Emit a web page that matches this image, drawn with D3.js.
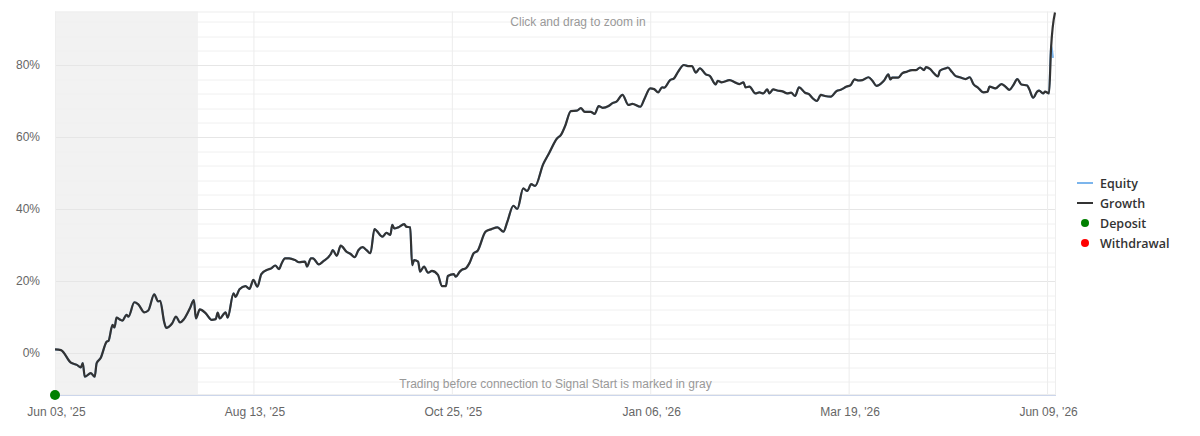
<!DOCTYPE html>
<html>
<head>
<meta charset="utf-8">
<script src="https://cdn.jsdelivr.net/npm/d3@7"></script>
<style>
  body { margin: 0; background: #fff; }
  text { font-family: "Liberation Sans", Arial, sans-serif; }
  .tickLabel { font-size: 12px; fill: #666; }
  .note { font-size: 12px; fill: #999; }
  .legendText { font-family: "Open Sans", sans-serif; font-size: 12.5px; font-weight: 600; fill: #333; }
</style>
</head>
<body>
<div id="chart"></div>
<script>
// x axis labels sit at these bar numbers
var tickLabels = ["Jun 03, '25", "Aug 13, '25", "Oct 25, '25", "Jan 06, '26", "Mar 19, '26", "Jun 09, '26"];
var tickBars = [0, 100, 200, 300, 400, 500];
var yTicks = [0, 20, 40, 60, 80];

// bar number of each point and the growth in %
var bars = [0, 3, 8, 11, 13, 14, 15, 18, 20, 21, 23, 26, 27, 29, 30, 31, 33, 34, 36, 37,
  40, 42, 45, 47, 50, 52, 53, 55, 56, 59, 61, 63, 65, 68, 70, 71, 73, 76, 79, 81,
  82, 83, 86, 87, 90, 91, 93, 96, 98, 100, 102, 104, 107, 109, 111, 113, 114, 116, 118, 121,
  123, 126, 127, 129, 130, 133, 135, 139, 140, 142, 144, 147, 149, 151, 153, 155, 157, 159, 161, 162,
  165, 166, 167, 169, 170, 171, 173, 176, 177, 179, 180, 181, 183, 184, 186, 188, 190, 193, 195, 197,
  198, 201, 202, 204, 205, 207, 209, 211, 213, 217, 220, 223, 226, 228, 231, 233, 236, 238, 240, 242,
  246, 249, 253, 255, 257, 260, 263, 265, 267, 270, 272, 274, 276, 279, 281, 283, 286, 289, 291, 295,
  297, 300, 302, 304, 306, 307, 310, 312, 314, 317, 319, 321, 323, 325, 328, 330, 333, 334, 336, 340,
  343, 345, 347, 348, 350, 353, 355, 357, 359, 360, 362, 364, 367, 369, 371, 373, 375, 378, 380, 382,
  384, 386, 388, 391, 394, 396, 399, 401, 403, 405, 407, 410, 412, 414, 417, 418, 420, 421, 422, 425,
  427, 429, 432, 434, 436, 438, 439, 441, 443, 445, 446, 449, 450, 452, 454, 456, 459, 461, 463, 465,
  468, 470, 471, 474, 477, 479, 481, 483, 485, 487, 490, 491, 493, 495, 496, 498, 499, 501, 502, 504];

var growth = [1.0, 0.8, -2.7, -3.3, -4.0, -2.8, -6.6, -5.6, -6.6, -2.8, -1.4, 3.1, 3.4, 7.8, 7.1, 9.8, 9.2, 9.0, 10.6, 10.1,
  14.1, 13.5, 11.3, 11.8, 16.3, 14.3, 14.5, 8.7, 7.0, 8.2, 10.1, 8.5, 9.4, 12.4, 14.7, 9.6, 12.1, 11.0, 9.2, 9.4,
  11.2, 9.6, 11.3, 9.8, 16.6, 15.6, 17.7, 18.6, 17.8, 20.3, 18.4, 21.9, 23.1, 23.5, 24.3, 23.3, 24.6, 26.3, 26.3, 25.8,
  25.2, 25.4, 24.0, 26.3, 26.3, 24.6, 25.4, 27.5, 28.6, 27.0, 29.8, 28.1, 27.5, 26.6, 28.6, 29.4, 28.6, 27.7, 34.4, 34.0,
  32.3, 32.8, 33.4, 32.8, 35.6, 34.6, 34.9, 35.8, 35.1, 34.9, 24.4, 25.8, 25.4, 22.6, 24.0, 22.3, 22.8, 21.7, 18.6, 18.6,
  21.4, 21.9, 21.2, 22.6, 23.1, 23.5, 25.1, 27.7, 28.4, 33.7, 34.4, 34.9, 33.7, 36.5, 40.9, 40.0, 45.7, 45.0, 46.9, 46.4,
  52.4, 55.5, 59.6, 60.6, 62.9, 67.2, 67.3, 68.0, 67.0, 67.0, 66.4, 68.6, 68.1, 68.6, 69.4, 69.8, 71.7, 68.9, 69.2, 68.4,
  70.5, 73.5, 73.3, 72.4, 73.8, 73.7, 75.8, 76.3, 78.1, 80.0, 79.7, 79.7, 77.9, 79.1, 77.4, 77.0, 74.6, 75.6, 75.2, 75.8,
  75.1, 74.7, 75.2, 73.8, 74.0, 72.1, 72.4, 72.1, 73.2, 72.1, 73.2, 72.9, 72.6, 72.1, 72.3, 71.4, 73.8, 72.3, 71.9, 70.7,
  70.0, 71.7, 71.4, 71.2, 72.8, 73.1, 74.0, 74.4, 76.0, 75.7, 75.8, 76.6, 75.6, 74.2, 75.2, 75.8, 77.4, 76.0, 76.5, 76.5,
  77.7, 78.1, 78.6, 78.6, 79.3, 78.6, 79.4, 78.9, 77.7, 76.8, 78.4, 79.1, 79.3, 78.1, 76.9, 76.6, 76.1, 76.6, 74.6, 73.8,
  72.4, 72.6, 74.0, 73.5, 74.7, 74.0, 73.1, 74.4, 76.1, 74.6, 74.3, 73.3, 70.9, 72.6, 72.9, 72.1, 72.6, 72.1, 84.6, 94.6];

// equity follows growth until the last bars
var equityTailBars = [502, 503];
var equityTail = [85.5, 82.0];

var grayUntilBar = 72;      // trading before connection
var depositBars = [0];

var legendNames = ["Equity", "Growth", "Deposit", "Withdrawal"];
var legendColors = ["#7cb5ec", "#333333", "#008000", "#ff0000"];

var svgWidth = 1200;
var svgHeight = 436;

var margin = {
  top: 11.5,
  right: 144,
  bottom: 41,
  left: 55,
};

var width = svgWidth - margin.left - margin.right;
var height = svgHeight - margin.top - margin.bottom;

var svg = d3.select("#chart")
  .append("svg")
  .attr("width", svgWidth)
  .attr("height", svgHeight);

var chartGroup = svg.append("g")
  .attr("transform", `translate(${margin.left}, ${margin.top})`);

var xScale = d3.scaleLinear()
  .domain([0, 504])
  .range([0, width - 1]);

var yScale = d3.scaleLinear()
  .domain([-11.67, 94.86])
  .range([height, 0]);

// gray band
chartGroup.append("rect")
  .attr("x", xScale(0))
  .attr("y", 0)
  .attr("width", xScale(grayUntilBar) - xScale(0))
  .attr("height", height)
  .attr("fill", "#f2f2f2");

// minor grid every 4%
var minorTicks = d3.range(-8, 95, 4).filter(d => d % 20 !== 0);
chartGroup.append("g")
  .selectAll("line")
  .data(minorTicks)
  .enter()
  .append("line")
  .attr("x1", 0)
  .attr("x2", width)
  .attr("y1", d => Math.round(yScale(d)) + 0.5)
  .attr("y2", d => Math.round(yScale(d)) + 0.5)
  .attr("stroke", "#f0f0f0");

// major grid
chartGroup.append("g")
  .call(d3.axisLeft(yScale).tickValues(yTicks).tickSize(-width).tickFormat(""))
  .call(g => g.select(".domain").remove())
  .selectAll("line")
  .attr("stroke", "#e6e6e6");

chartGroup.append("g")
  .attr("transform", `translate(0, ${height})`)
  .call(d3.axisBottom(xScale).tickValues(tickBars).tickSize(-height).tickFormat(""))
  .call(g => g.select(".domain").remove())
  .selectAll("line")
  .attr("stroke", "#ececec");

// plot border
chartGroup.append("rect")
  .attr("x", 0.5)
  .attr("y", 0.5)
  .attr("width", width - 1)
  .attr("height", height - 1)
  .attr("fill", "none")
  .attr("stroke", "#eeeeee");

// x axis line
chartGroup.append("line")
  .attr("x1", 0)
  .attr("x2", width)
  .attr("y1", height + 0.5)
  .attr("y2", height + 0.5)
  .attr("stroke", "#ccd6eb");

// axis labels
chartGroup.append("g")
  .selectAll("text")
  .data(yTicks)
  .enter()
  .append("text")
  .attr("class", "tickLabel")
  .attr("x", -15)
  .attr("y", d => yScale(d) + 4)
  .attr("text-anchor", "end")
  .text(d => d + "%");

chartGroup.append("g")
  .selectAll("text")
  .data(tickBars)
  .enter()
  .append("text")
  .attr("class", "tickLabel")
  .attr("x", d => xScale(d) + 1.5)
  .attr("y", height + 21)
  .attr("text-anchor", "middle")
  .text((d, i) => tickLabels[i]);

// notes
chartGroup.append("text")
  .attr("class", "note")
  .attr("x", 523)
  .attr("y", 14.5)
  .attr("text-anchor", "middle")
  .text("Click and drag to zoom in");

chartGroup.append("text")
  .attr("class", "note")
  .attr("x", width / 2)
  .attr("y", height - 7)
  .attr("text-anchor", "middle")
  .text("Trading before connection to Signal Start is marked in gray");

// series
var growthData = bars.map((b, i) => ({ bar: b, value: growth[i] }));
var equityData = growthData.filter(d => d.bar < equityTailBars[0])
  .concat(equityTailBars.map((b, i) => ({ bar: b, value: equityTail[i] })));

svg.append("defs").append("clipPath")
  .attr("id", "plotClip")
  .append("rect")
  .attr("width", width)
  .attr("height", height);

var line = d3.line()
  .x(d => xScale(d.bar))
  .y(d => yScale(d.value))
  .curve(d3.curveMonotoneX);

var seriesGroup = chartGroup.append("g").attr("clip-path", "url(#plotClip)");

seriesGroup.append("path")
  .datum(equityData)
  .attr("d", line)
  .attr("fill", "none")
  .attr("stroke", legendColors[0])
  .attr("stroke-width", 2)
  .attr("stroke-linejoin", "round");

seriesGroup.append("path")
  .datum(growthData)
  .attr("d", line)
  .attr("fill", "none")
  .attr("stroke", legendColors[1])
  .attr("stroke-width", 2.2)
  .attr("stroke-linejoin", "round");

// deposits on the axis
chartGroup.append("g")
  .selectAll("circle")
  .data(depositBars)
  .enter()
  .append("circle")
  .attr("cx", d => xScale(d))
  .attr("cy", height)
  .attr("r", 5)
  .attr("fill", legendColors[2]);

// legend
var legend = svg.append("g")
  .attr("transform", "translate(1077, 183)");

var items = legend.selectAll("g")
  .data(legendNames)
  .enter()
  .append("g")
  .attr("transform", (d, i) => `translate(0, ${i * 20})`);

items.filter((d, i) => i < 2)
  .append("line")
  .attr("x1", 0)
  .attr("x2", 16)
  .attr("y1", 0)
  .attr("y2", 0)
  .attr("stroke", (d, i) => legendColors[i])
  .attr("stroke-width", 2);

items.filter((d, i) => i >= 2)
  .append("circle")
  .attr("cx", 8)
  .attr("cy", 0)
  .attr("r", 4)
  .attr("fill", d => legendColors[legendNames.indexOf(d)]);

items.append("text")
  .attr("class", "legendText")
  .attr("x", 23)
  .attr("y", 4.5)
  .text(d => d);
</script>
</body>
</html>
